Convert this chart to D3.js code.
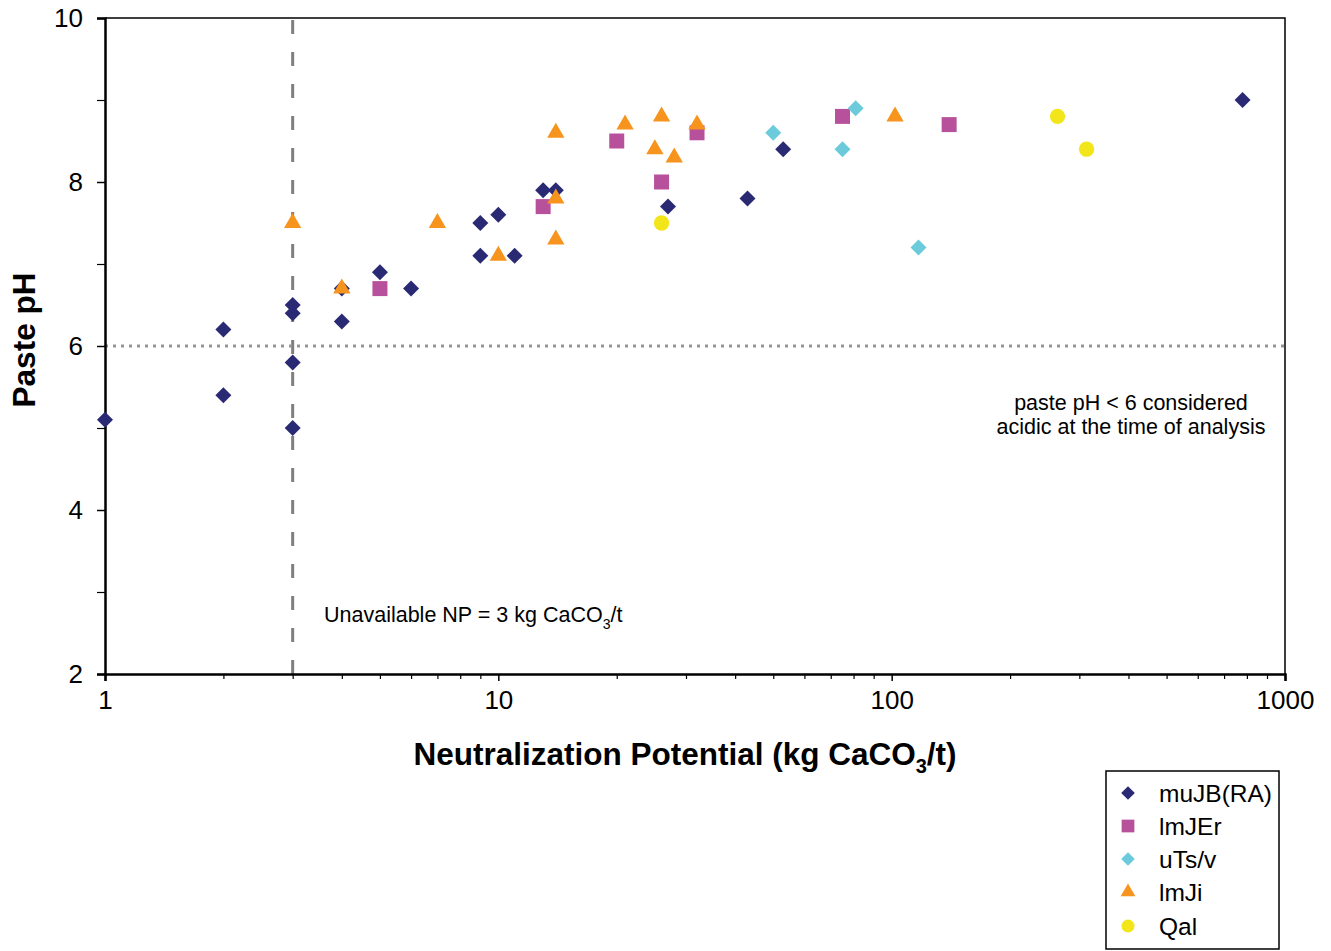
<!DOCTYPE html>
<html>
<head>
<meta charset="utf-8">
<script src="https://cdn.jsdelivr.net/npm/d3@7"></script>
<style>
  html, body { margin: 0; padding: 0; background: #fff; }
  svg { display: block; font-family: "Liberation Sans", Arial, sans-serif; }
</style>
</head>
<body>
<svg id="chart" width="1331" height="951"></svg>
<script>
// Neutralization potential (kg CaCO3/t) and paste pH, by geological unit
const seriesNames = ["muJB(RA)", "lmJEr", "uTs/v", "lmJi", "Qal"];

const muJB_np = [1, 2, 2, 3, 3, 3, 3, 4, 4, 5, 6, 9, 9, 10, 11, 13, 14, 27, 43, 53, 780];
const muJB_ph = [5.1, 6.2, 5.4, 6.5, 6.4, 5.8, 5.0, 6.7, 6.3, 6.9, 6.7, 7.5, 7.1, 7.6, 7.1, 7.9, 7.9, 7.7, 7.8, 8.4, 9.0];

const lmJEr_np = [5, 13, 20, 26, 32, 75, 140];
const lmJEr_ph = [6.7, 7.7, 8.5, 8.0, 8.6, 8.8, 8.7];

const uTs_np = [50, 75, 81, 117];
const uTs_ph = [8.6, 8.4, 8.9, 7.2];

const lmJi_np = [3, 4, 7, 10, 14, 14, 14, 21, 25, 26, 28, 32, 102];
const lmJi_ph = [7.5, 6.7, 7.5, 7.1, 8.6, 7.8, 7.3, 8.7, 8.4, 8.8, 8.3, 8.7, 8.8];

const Qal_np = [26, 264, 313];
const Qal_ph = [7.5, 8.8, 8.4];

const xMajorTicks = [1, 10, 100, 1000];
const yMajorTicks = [2, 4, 6, 8, 10];
const yMinorTicks = [3, 5, 7, 9];

const unavailableNP = 3;
const acidicPH = 6;

const svg = d3.select("#chart");
const plotLeft = 105, plotRight = 1285, plotTop = 18, plotBottom = 674;

const x = d3.scaleLog().domain([1, 1000]).range([plotLeft, plotRight]);
const y = d3.scaleLinear().domain([2, 10]).range([plotBottom, plotTop]);

const zip = (a, b) => a.map((v, i) => ({ np: v, ph: b[i] }));
const series = [
  { name: seriesNames[0], data: zip(muJB_np, muJB_ph), color: "#2a2a74", shape: "diamond" },
  { name: seriesNames[1], data: zip(lmJEr_np, lmJEr_ph), color: "#b8519c", shape: "square" },
  { name: seriesNames[2], data: zip(uTs_np, uTs_ph), color: "#6ccbdb", shape: "diamond" },
  { name: seriesNames[3], data: zip(lmJi_np, lmJi_ph), color: "#f7941d", shape: "triangle" },
  { name: seriesNames[4], data: zip(Qal_np, Qal_ph), color: "#f2e61b", shape: "circle" }
];

function symbolPath(shape, scale) {
  const s = scale || 1;
  if (shape === "diamond") return { d: d3.symbol(d3.symbolSquare, 128 * s * s)(), rot: 45 };
  if (shape === "square") return { d: d3.symbol(d3.symbolSquare, 225 * s * s)(), rot: 0 };
  if (shape === "triangle") return { d: d3.symbol(d3.symbolTriangle, 130 * s * s)(), rot: 0 };
  return { d: d3.symbol(d3.symbolCircle, 185 * s * s)(), rot: 0 };
}

// Plot frame (top and right edges)
svg.append("path")
  .attr("d", `M${plotLeft},${plotTop}H${plotRight}V${plotBottom}`)
  .attr("fill", "none").attr("stroke", "#000").attr("stroke-width", 1.5);

// Reference lines
svg.append("line")
  .attr("x1", x(unavailableNP)).attr("x2", x(unavailableNP))
  .attr("y1", plotTop + 2).attr("y2", plotBottom)
  .attr("stroke", "#7f7f7f").attr("stroke-width", 3)
  .attr("stroke-dasharray", "14,18");

svg.append("line")
  .attr("x1", plotLeft).attr("x2", plotRight)
  .attr("y1", y(acidicPH)).attr("y2", y(acidicPH))
  .attr("stroke", "#959595").attr("stroke-width", 3)
  .attr("stroke-dasharray", "3,5");

// X axis (log) with minor ticks
const xMinor = [];
for (let d = 1; d < 1000; d *= 10) for (let k = 2; k <= 9; k++) xMinor.push(d * k);

const xAxisG = svg.append("g").attr("transform", `translate(0,${plotBottom})`);
xAxisG.call(d3.axisBottom(x).tickValues(xMajorTicks).tickFormat(d3.format("d")).tickSize(7).tickPadding(10))
  .call(g => g.select(".domain").attr("stroke-width", 2.5));
xAxisG.selectAll(".tick line").attr("stroke-width", 1.5);
xAxisG.selectAll(".tick text").attr("font-size", 26).attr("fill", "#000")
  .attr("font-family", "'Liberation Sans', Arial, sans-serif");
xAxisG.append("g").call(d3.axisBottom(x).tickValues(xMinor).tickFormat("").tickSize(5))
  .call(g => g.select(".domain").remove())
  .selectAll(".tick line").attr("stroke-width", 1.2);

// Y axis with minor ticks
const yAxisG = svg.append("g").attr("transform", `translate(${plotLeft},0)`);
yAxisG.call(d3.axisLeft(y).tickValues(yMajorTicks).tickSize(8).tickPadding(14))
  .call(g => g.select(".domain").attr("stroke-width", 2.5));
yAxisG.selectAll(".tick line").attr("stroke-width", 1.5);
yAxisG.selectAll(".tick text").attr("font-size", 26).attr("fill", "#000")
  .attr("font-family", "'Liberation Sans', Arial, sans-serif");
yAxisG.append("g").call(d3.axisLeft(y).tickValues(yMinorTicks).tickFormat("").tickSize(8))
  .call(g => g.select(".domain").remove())
  .selectAll(".tick line").attr("stroke-width", 1.2);

// Points
series.forEach(s => {
  const sym = symbolPath(s.shape);
  svg.append("g").selectAll("path").data(s.data).join("path")
    .attr("d", sym.d)
    .attr("transform", d => `translate(${x(d.np)},${y(d.ph)}) rotate(${sym.rot})`)
    .attr("fill", s.color);
});

// Annotations
const note1 = svg.append("text")
  .attr("x", 324).attr("y", 622)
  .attr("font-size", 21.5).attr("fill", "#000");
note1.append("tspan").text("Unavailable NP = 3 kg CaCO");
note1.append("tspan").attr("font-size", 14).attr("dy", 7).text("3");
note1.append("tspan").attr("dy", -7).text("/t");

svg.append("text").attr("x", 1131).attr("y", 410).attr("text-anchor", "middle")
  .attr("font-size", 21.5).text("paste pH < 6 considered");
svg.append("text").attr("x", 1131).attr("y", 434).attr("text-anchor", "middle")
  .attr("font-size", 21.5).text("acidic at the time of analysis");

// Axis titles
const xt = svg.append("text")
  .attr("x", 685).attr("y", 765).attr("text-anchor", "middle")
  .attr("font-size", 31.5).attr("font-weight", "bold");
xt.append("tspan").text("Neutralization Potential (kg CaCO");
xt.append("tspan").attr("font-size", 20).attr("dy", 8).text("3");
xt.append("tspan").attr("dy", -8).text("/t)");

svg.append("text")
  .attr("transform", "translate(35,340) rotate(-90)")
  .attr("text-anchor", "middle")
  .attr("font-size", 31.5).attr("font-weight", "bold")
  .text("Paste pH");

// Legend
const lg = svg.append("g");
lg.append("rect").attr("x", 1106).attr("y", 771).attr("width", 173).attr("height", 178)
  .attr("fill", "#fff").attr("stroke", "#000").attr("stroke-width", 1.5);
const rowY = [793, 826, 859, 892, 926];
series.forEach((s, i) => {
  const sym = symbolPath(s.shape, 0.85);
  lg.append("path").attr("d", sym.d)
    .attr("transform", `translate(1128,${rowY[i]}) rotate(${sym.rot})`)
    .attr("fill", s.color);
  lg.append("text").attr("x", 1159).attr("y", rowY[i]).attr("dy", "0.36em")
    .attr("font-size", 24.5).text(s.name);
});
</script>
</body>
</html>
